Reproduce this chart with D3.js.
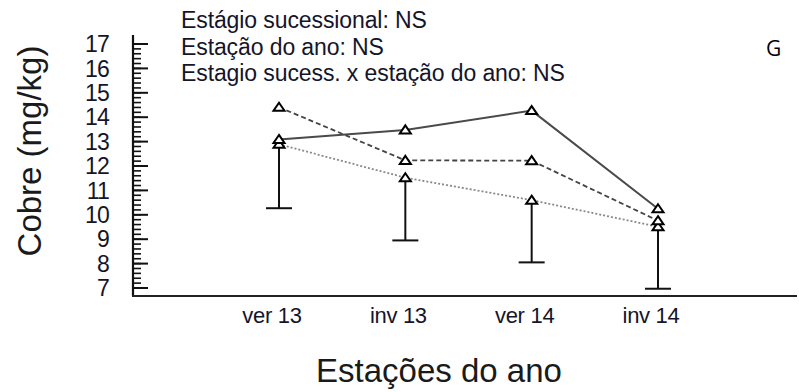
<!DOCTYPE html>
<html><head><meta charset="utf-8">
<script src="https://cdn.jsdelivr.net/npm/d3@7"></script>
<style>
html,body{margin:0;padding:0;background:#fff;}
svg{display:block;font-family:"Liberation Sans",Arial,sans-serif;}
</style></head>
<body><svg id="chart" width="799" height="392"></svg>
<script>
const categories = ["ver 13", "inv 13", "ver 14", "inv 14"];
const solidSeries = [13.09, 13.48, 14.27, 10.25];
const dashedSeries = [14.41, 12.23, 12.22, 9.76];
const dottedSeries = [12.89, 11.52, 10.60, 9.51];
const lowerError = [10.27, 8.95, 8.05, 6.97];
const yTickValues = [7, 8, 9, 10, 11, 12, 13, 14, 15, 16, 17];
const statLines = ["Estágio sucessional: NS", "Estação do ano: NS", "Estagio sucess. x estação do ano: NS"];

const svg = d3.select("#chart");
const axisLeftX = 133, axisRight = 797, axisBottomY = 296, axisTopY = 35;

const x = d3.scalePoint().domain(categories).range([279, 658]);
const y = d3.scaleLinear().domain([7, 17]).range([288, 44]);

const txtColor = "#15152a";

// stats text
svg.append("g").selectAll("text").data(statLines).join("text")
  .attr("x", 181).attr("y", (d, i) => 28 + i * 26.5)
  .attr("font-size", 23).attr("letter-spacing", -0.1).attr("fill", txtColor)
  .text(d => d);

svg.append("text").attr("x", 766).attr("y", 56)
  .attr("font-family", "'Open Sans',sans-serif").attr("font-size", 21).attr("fill", "#000")
  .text("G");

// y axis minor ticks
const minor = d3.range(7, 17.001, 0.2).map(v => +v.toFixed(1));
const yAxis = svg.append("g").attr("transform", `translate(${axisLeftX},0)`);
yAxis.selectAll("line.minor").data(minor).join("line").attr("class", "minor")
  .attr("x1", 0).attr("x2", 8).attr("y1", d => y(d)).attr("y2", d => y(d))
  .attr("stroke", "#111").attr("stroke-width", 1.6);
yAxis.selectAll("line.major").data(yTickValues).join("line").attr("class", "major")
  .attr("x1", 0).attr("x2", 15).attr("y1", d => y(d)).attr("y2", d => y(d))
  .attr("stroke", "#111").attr("stroke-width", 2);
yAxis.selectAll("text").data(yTickValues).join("text")
  .attr("x", -24).attr("y", d => y(d)).attr("dy", "0.36em")
  .attr("text-anchor", "end").attr("font-size", 23).attr("letter-spacing", -0.8).attr("fill", txtColor)
  .text(d => d);

// axis lines
svg.append("line").attr("x1", axisLeftX).attr("x2", axisLeftX).attr("y1", axisTopY).attr("y2", axisBottomY)
  .attr("stroke", "#111").attr("stroke-width", 2.2);
svg.append("line").attr("x1", axisLeftX - 1).attr("x2", axisRight).attr("y1", axisBottomY).attr("y2", axisBottomY)
  .attr("stroke", "#222").attr("stroke-width", 2.2);

// x tick labels
svg.append("g").selectAll("text").data(categories).join("text")
  .attr("x", d => x(d) - 7).attr("y", 323)
  .attr("text-anchor", "middle").attr("font-size", 22).attr("letter-spacing", -0.3).attr("fill", txtColor)
  .text(d => d);

// axis titles
svg.append("text").attr("x", 439).attr("y", 382).attr("text-anchor", "middle")
  .attr("font-size", 33).attr("fill", "#1a1a1a").text("Estações do ano");
svg.append("text").attr("transform", "translate(41,151) rotate(-90)").attr("text-anchor", "middle")
  .attr("font-size", 33).attr("fill", "#1a1a1a").text("Cobre (mg/kg)");

// error bars (lower) from dotted series
const eb = svg.append("g");
categories.forEach((c, i) => {
  eb.append("line").attr("x1", x(c)).attr("x2", x(c)).attr("y1", y(dottedSeries[i])).attr("y2", y(lowerError[i]))
    .attr("stroke", "#111").attr("stroke-width", 2);
  eb.append("line").attr("x1", x(c) - 13).attr("x2", x(c) + 13).attr("y1", y(lowerError[i])).attr("y2", y(lowerError[i]))
    .attr("stroke", "#111").attr("stroke-width", 2);
});

const line = d3.line().x((d, i) => x(categories[i])).y(d => y(d));
const seriesDefs = [
  {vals: dottedSeries, color: "#8a8a8a", dash: "2,2", w: 1.8},
  {vals: dashedSeries, color: "#444", dash: "5,3", w: 1.8},
  {vals: solidSeries, color: "#4a4a4a", dash: null, w: 2}
];
seriesDefs.forEach(s => {
  svg.append("path").datum(s.vals).attr("d", line).attr("fill", "none")
    .attr("stroke", s.color).attr("stroke-width", s.w).attr("stroke-dasharray", s.dash);
});
const tri = "M0,-4.5L5.5,3.5L-5.5,3.5Z";
seriesDefs.forEach(s => {
  svg.append("g").selectAll("path").data(s.vals).join("path")
    .attr("transform", (d, i) => `translate(${x(categories[i])},${y(d)})`)
    .attr("d", tri).attr("fill", "#fff").attr("stroke", "#000").attr("stroke-width", 2);
});
</script></body></html>
